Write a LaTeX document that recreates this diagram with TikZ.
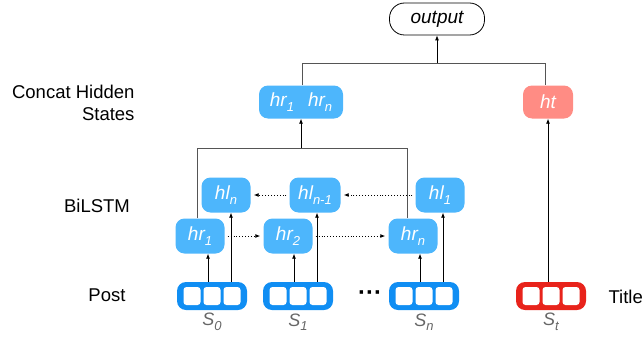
\documentclass[tikz,border=0pt]{standalone}
\usepackage{fontspec}
\setmainfont{Liberation Sans}
\usetikzlibrary{arrows.meta,calc}
\definecolor{cellblue}{HTML}{4DB6FC}
\definecolor{seqblue}{HTML}{108EF3}
\definecolor{seqred}{HTML}{E8231B}
\definecolor{htpink}{HTML}{FF8C84}
\definecolor{bracketgray}{HTML}{555555}
\definecolor{labelgray}{HTML}{666666}
\newcommand{\sub}[1]{\raisebox{-0.25em}{\fontsize{13}{14}\selectfont #1}}
\tikzset{
  state/.style={fill=cellblue, rounded corners=9pt, minimum width=49pt, minimum height=35pt,
    inner sep=0pt, text=white, font=\fontsize{19}{21}\selectfont\itshape},
  seqbox/.style={rounded corners=9pt, minimum width=70pt, minimum height=28pt, inner sep=0pt},
  cell/.style={fill=white, rounded corners=3pt, minimum width=17pt, minimum height=18pt, inner sep=0pt},
  arr/.style={-{Latex[length=5pt,width=4pt]}, line width=0.8pt},
  dotarr/.style={-{Latex[length=5pt,width=4pt]}, line width=0.9pt, dotted, shorten <=3pt, shorten >=3pt},
  bracket/.style={draw=bracketgray, line width=0.9pt},
  side/.style={font=\fontsize{18.5}{22}\selectfont, text=black},
  seqlabel/.style={font=\fontsize{18}{20}\selectfont\itshape, text=labelgray},
}
\begin{document}
\begin{tikzpicture}[x=1pt,y=-1pt]
\useasboundingbox (0,0) rectangle (644,337);

% output node
\node[draw, line width=0.8pt, rounded corners=15pt, minimum width=95pt, minimum height=32pt,
      font=\fontsize{19}{21}\selectfont\itshape] (out) at (437,19) {output};

% concatenated hidden states and title state
\node[state, minimum width=84pt, minimum height=33pt] (cat) at (301,102)
  {hr\sub{1}\hspace{14pt}hr\sub{n}};
\node[state, fill=htpink, minimum width=50pt, minimum height=33pt] (ht) at (548,102) {ht};

% backward LSTM states
\node[state] (hln) at (226,195) {hl\sub{n}};
\node[state, minimum width=51pt] (hlm) at (315,195) {hl\sub{n-1}};
\node[state] (hla) at (440,195) {hl\sub{1}};
% forward LSTM states
\node[state] (hra) at (200,236) {hr\sub{1}};
\node[state] (hrb) at (288,236) {hr\sub{2}};
\node[state] (hrn) at (413,236) {hr\sub{n}};

% input sequences
\foreach \nm/\cx/\col in {s0/212/seqblue, s1/298/seqblue, sn/424/seqblue, st/551/seqred}{
  \node[seqbox, fill=\col] (\nm) at (\cx,296) {};
  \foreach \k/\dx in {a/-20, b/0, c/20}
    \node[cell] (\nm\k) at ($(\nm.center)+(\dx,0)$) {};
}
\node[font=\bfseries\fontsize{24}{24}\selectfont] (dots) at (370,296) {···};

% sequence labels
\node[seqlabel] (l0) at (212,322) {S\sub{0}};
\node[seqlabel] (l1) at (298,322) {S\sub{1}};
\node[seqlabel] (ln) at (424,322) {S\sub{n}};
\node[seqlabel] (lt) at (551,322) {S\sub{t}};

% side labels
\node[side, align=right, anchor=east] (lcat) at (138,103) {Concat Hidden\\States};
\node[side] (lbi) at (97,206) {BiLSTM};
\node[side] (lpost) at (107,295) {Post};
\node[side, anchor=east, inner sep=1pt] (ltitle) at (644,297) {Title};

% inputs into the LSTM cells
\foreach \s/\r/\l in {s0/hra/hln, s1/hrb/hlm, sn/hrn/hla}{
  \draw[arr] ([xshift=-4pt]\s.north) -- ([xshift=-4pt]\s.north |- \r.south);
  \draw[arr] ([xshift=19pt]\s.north) -- ([xshift=19pt]\s.north |- \l.south);
}
\draw[arr] (st.north -| ht.south) -- (ht.south);

% recurrent connections
\draw[dotarr] (hra.east) -- (hrb.west);
\draw[dotarr] (hrb.east) -- (hrn.west);
\draw[dotarr] (hla.west) -- (hlm.east);
\draw[dotarr] (hlm.west) -- (hln.east);

% gathering the end states
\coordinate (ga) at (197,148);
\coordinate (gb) at (407,148);
\draw[bracket] ([xshift=-3pt]hra.north) -- (ga) -- (gb) -- ([xshift=-6pt]hrn.north);
\draw[arr] (cat.south |- ga) -- (cat.south);

% joining into the output
\coordinate (ja) at (302,63);
\coordinate (jb) at (545,63);
\draw[bracket] (cat.north -| ja) -- (ja) -- (jb) -- (ht.north -| jb);
\draw[arr] (out.south |- ja) -- (out.south);
\end{tikzpicture}
\end{document}
